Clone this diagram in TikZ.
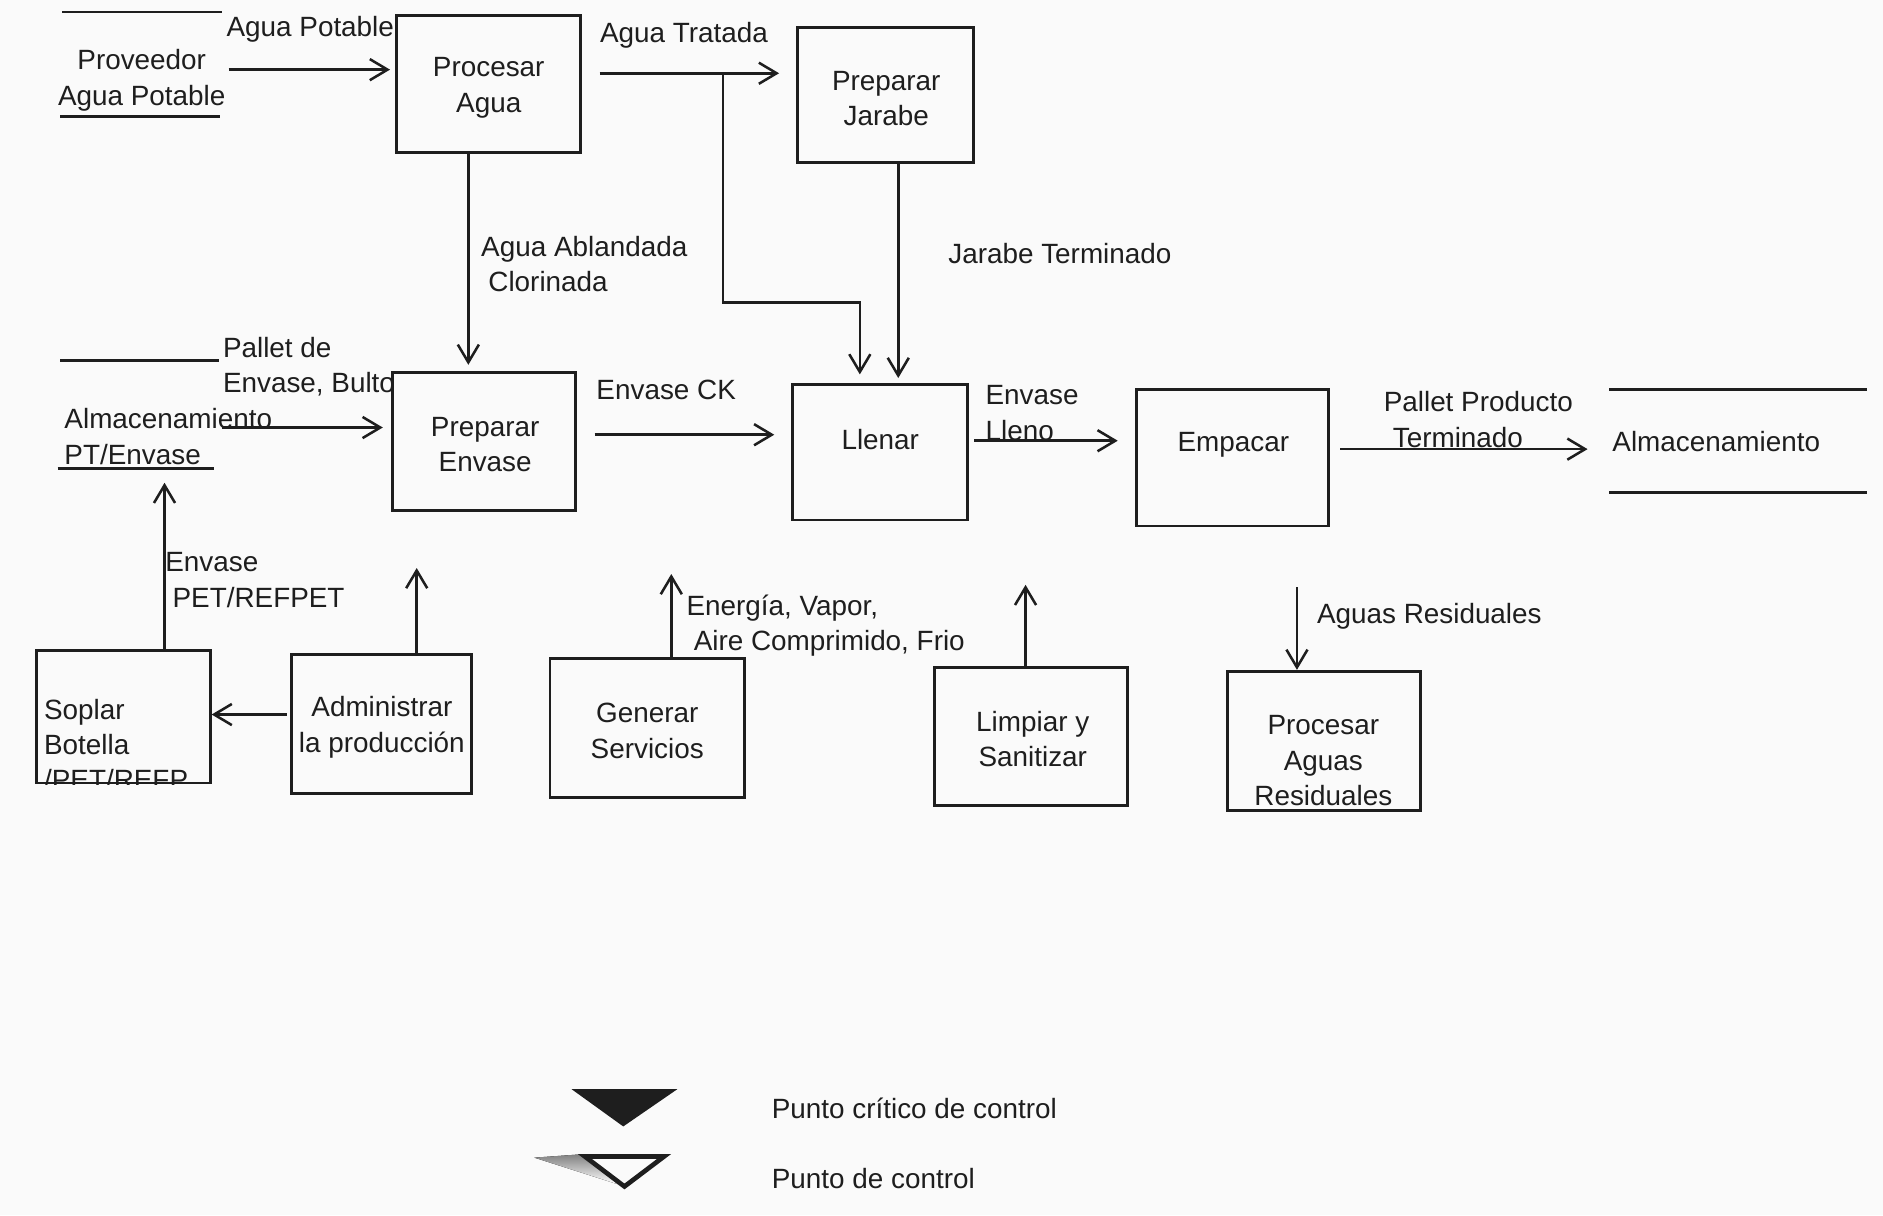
\documentclass[tikz,border=0pt]{standalone}
\usepackage{fontspec}
\setmainfont{Liberation Sans}
\usetikzlibrary{arrows.meta,fit}
\definecolor{ink}{HTML}{1E1E1E}
\definecolor{paper}{HTML}{FAFAFA}
\definecolor{shade}{HTML}{9A9A9A}

% process box drawn from its corners, with its caption placed separately
\newcommand{\procbox}[8]{%
  \node[box, fit={(#2,#3) (#4,#5)}] (#1) {};
  \node[boxtext] (#1-t) at (#6,#7) {#8};}

\begin{document}
\begin{tikzpicture}[x=0.01cm, y=-0.01cm,
  every node/.style={font=\fontsize{6.6pt}{8.4pt}\selectfont, text=ink, inner sep=0pt},
  box/.style={draw=ink, line width=0.7pt, inner sep=0pt},
  boxtext/.style={align=center},
  lbl/.style={anchor=west, align=left},
  flow/.style={draw=ink, line width=0.6pt, -{Straight Barb[length=4.2pt,width=5pt]}},
  rule/.style={draw=ink, line width=0.7pt},
]
\path[use as bounding box, fill=paper] (0,0) rectangle (1568,1012);

% ---------- process boxes ----------
\procbox{pa}{330}{13}{483}{127}{407}{73}{Procesar\\Agua}
\procbox{pj}{664}{23}{811}{135}{738}{82}{Preparar\\Jarabe}
\procbox{pe}{327}{310}{479}{425}{404}{370}{Preparar\\Envase}
\procbox{ll}{660}{320}{806}{433}{733}{366}{Llenar}
\procbox{em}{946}{324}{1106}{438}{1027}{370}{Empacar}
\procbox{ad}{243}{545}{393}{661}{318}{605.5}{Administrar\\la producción}
\procbox{gs}{458}{548}{620}{664}{539}{608.5}{Generar\\Servicios}
\procbox{ls}{778}{556}{939}{671}{860}{615.5}{Limpiar y\\Sanitizar}
\procbox{pr}{1022}{559}{1183}{675}{1102}{633.5}{Procesar\\Aguas\\Residuales}

\node[box, fit={(30,542) (175,652)}] (so) {};
\begin{scope}
  \clip (so.south west) rectangle (so.north east);
  \node[lbl] (so-t) at (36,620) {Soplar\\Botella\\/PET/REFP};
\end{scope}

% ---------- external stores ----------
\draw[rule] (52,10) -- (185,10);
\node[align=center] (prov) at (118,67) {Proveedor\\Agua Potable};
\draw[rule] (50,97) -- (183,97);

\draw[rule] (50,300) -- (182,300);
\node[lbl] (alm) at (53,363.5) {Almacenamiento\\PT/Envase};
\draw[rule] (48,390) -- (178,390);

\draw[rule] (1340,324) -- (1555,324);
\node[lbl] (st) at (1342,368) {Almacenamiento};
\draw[rule] (1340,410) -- (1555,410);

% ---------- flow labels ----------
\node[lbl] at (188,24) {Agua Potable};
\node[lbl] at (499,29) {Agua Tratada};
\node[lbl] at (789,211) {Jarabe Terminado};
\node[lbl] at (400,220) {Agua Ablandada\\\hspace*{0.06cm}Clorinada};
\node[lbl] at (185,305.5) {Pallet de\\Envase, Bulto};
\node[lbl] at (496,325) {Envase CK};
\node[lbl] at (820,344) {Envase\\Lleno};
\node[align=center] at (1231,349.5) {Pallet Producto\\Terminado\hspace*{0.34cm}};
\node[lbl] at (137,483) {Envase\\\hspace*{0.06cm}PET/REFPET};
\node[lbl] at (571,521) {Energía, Vapor,\\\hspace*{0.06cm}Aire Comprimido, Frio};
\node[lbl] at (1096,513) {Aguas Residuales};

% ---------- flows ----------
\draw[flow, shorten <=0.02cm, shorten >=0.04cm] (prov.east |- 0,58) -- (pa.west |- 0,58);
\draw[flow, shorten <=0.15cm, shorten >=0.14cm] (pa.east |- 0,61) -- (pj.west |- 0,61);
\coordinate (split) at (602,61);
\coordinate (bend) at (602,252);
\draw[flow, shorten >=0.07cm] (split) -- (bend) -| (ll.north -| 716,0);
\draw[flow, shorten >=0.04cm] (pj.south -| 748,0) -- (ll.north -| 748,0);
\draw[flow, shorten >=0.05cm] (pa.south -| 390,0) -- (pe.north -| 390,0);

\coordinate (almout) at (185,356);
\draw[flow, shorten >=0.07cm] (almout) -- (pe.west |- 0,356);
\draw[flow, shorten <=0.15cm, shorten >=0.14cm] (pe.east |- 0,362) -- (ll.west |- 0,362);
\draw[flow, shorten <=0.04cm, shorten >=0.14cm] (ll.east |- 0,367) -- (em.west |- 0,367);
\draw[flow, shorten <=0.09cm, shorten >=0.2cm] (em.east |- 0,374) -- (st.west |- 0,374);

\coordinate (almin) at (137,402);
\draw[flow] (so.north -| 137,0) -- (almin);
\draw[flow, shorten <=0.03cm] (ad.west |- 0,595) -- (so.east |- 0,595);
\coordinate (adout) at (347,473);
\draw[flow] (ad.north -| 347,0) -- (adout);
\coordinate (gsout) at (559,478);
\draw[flow] (gs.north -| 559,0) -- (gsout);
\coordinate (lsout) at (854,487);
\draw[flow] (ls.north -| 854,0) -- (lsout);
\coordinate (arin) at (1080,489);
\draw[flow] (arin) -- (pr.north -| 1080,0);

% ---------- legend ----------
\fill[ink] (476,907) -- (564,907) -- (519,938) -- cycle;
\node[lbl] at (642,923) {Punto crítico de control};
\fill[shade] (445,964) -- (487,961) -- (514,986) -- cycle;
\draw[ink, line width=1.1pt, fill=paper, line join=miter] (487,963) -- (553,963) -- (520,988) -- cycle;
\node[lbl] at (642,981) {Punto de control};
\end{tikzpicture}
\end{document}
